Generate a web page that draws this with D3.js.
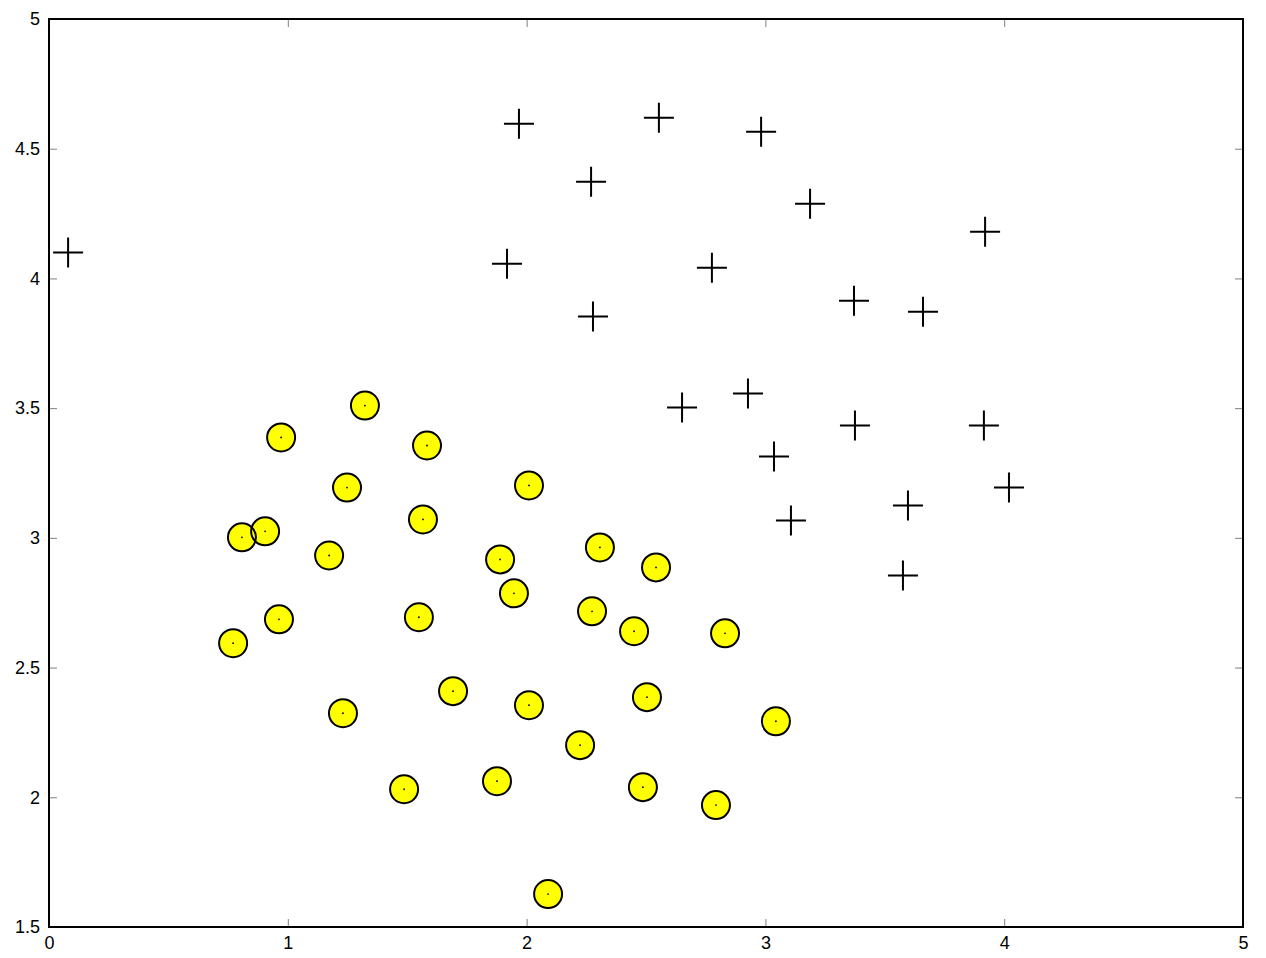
<!DOCTYPE html>
<html>
<head>
<meta charset="utf-8">
<script src="https://cdn.jsdelivr.net/npm/d3@7/dist/d3.min.js"></script>
<style>
  html, body { margin: 0; padding: 0; background: #fff; }
  svg { display: block; }
  .tick text { font-family: "Liberation Sans", Arial, Helvetica, sans-serif; font-size: 18px; fill: #000; }
</style>
</head>
<body>
<svg id="chart" width="1266" height="958"></svg>
<script>
// Positive examples (plus markers)
const posX = [0.08, 1.968, 2.554, 2.982, 2.270, 3.187, 3.920, 1.918, 2.776, 3.371, 3.660, 2.278, 2.651, 2.927, 3.375, 3.915, 3.036, 4.020, 3.597, 3.107, 3.576];
const posY = [4.10, 4.596, 4.619, 4.565, 4.373, 4.288, 4.180, 4.057, 4.041, 3.914, 3.872, 3.853, 3.502, 3.556, 3.433, 3.433, 3.314, 3.194, 3.125, 3.067, 2.855];

// Negative examples (yellow circles)
const negX = [1.323, 0.972, 1.583, 1.248, 2.010, 1.566, 0.808, 0.905, 1.173, 2.307, 1.889, 2.542, 1.947, 2.274, 1.549, 0.963, 2.450, 2.831, 0.771, 1.692, 2.504, 2.010, 1.231, 3.044, 2.224, 1.876, 1.487, 2.487, 2.793, 2.090];
const negY = [3.510, 3.387, 3.356, 3.194, 3.202, 3.071, 3.002, 3.025, 2.932, 2.963, 2.917, 2.886, 2.786, 2.717, 2.694, 2.686, 2.640, 2.632, 2.594, 2.409, 2.386, 2.355, 2.324, 2.293, 2.201, 2.062, 2.031, 2.039, 1.970, 1.627];

const xTicks = [0, 1, 2, 3, 4, 5];
const yTicks = [1.5, 2, 2.5, 3, 3.5, 4, 4.5, 5];
const xDomain = [0, 5];
const yDomain = [1.5, 5];

const W = 1266, H = 958;
const margin = { left: 49, top: 19, right: 23, bottom: 31 };
const iw = W - margin.left - margin.right;
const ih = H - margin.top - margin.bottom;

const svg = d3.select("#chart");
const g = svg.append("g").attr("transform", `translate(${margin.left},${margin.top})`);

const x = d3.scaleLinear().domain(xDomain).range([0, iw]);
const y = d3.scaleLinear().domain(yDomain).range([ih, 0]);

const fmt = d => String(d);

// Axes with inward ticks
const axB = g.append("g").attr("transform", `translate(0,${ih})`)
  .call(d3.axisBottom(x).tickValues(xTicks).tickSize(-8).tickPadding(9).tickFormat(fmt));
const axL = g.append("g")
  .call(d3.axisLeft(y).tickValues(yTicks).tickSize(-8).tickPadding(9).tickFormat(fmt));
const axT = g.append("g")
  .call(d3.axisTop(x).tickValues(xTicks).tickSize(-8).tickFormat(""));
const axR = g.append("g").attr("transform", `translate(${iw},0)`)
  .call(d3.axisRight(y).tickValues(yTicks).tickSize(-8).tickFormat(""));

[axB, axL, axT, axR].forEach(a => {
  a.select(".domain").remove();
  a.selectAll(".tick line").attr("stroke", "#808080").attr("stroke-width", 1);
});

// Plus markers
const pos = posX.map((v, i) => ({ x: v, y: posY[i] }));
const neg = negX.map((v, i) => ({ x: v, y: negY[i] }));
const arm = 15;
g.append("g").selectAll("path").data(pos).join("path")
  .attr("d", d => {
    const cx = x(d.x), cy = y(d.y);
    return `M${cx - arm},${cy}H${cx + arm}M${cx},${cy - arm}V${cy + arm}`;
  })
  .attr("stroke", "#000").attr("stroke-width", 2).attr("fill", "none");

// Circle markers: fills, then outlines, then center dots
const r = 14;
const cg = g.append("g");
cg.selectAll("circle.fill").data(neg).join("circle").attr("class", "fill")
  .attr("cx", d => x(d.x)).attr("cy", d => y(d.y)).attr("r", r)
  .attr("fill", "#ffff00").attr("stroke", "none");
cg.selectAll("circle.edge").data(neg).join("circle").attr("class", "edge")
  .attr("cx", d => x(d.x)).attr("cy", d => y(d.y)).attr("r", r)
  .attr("fill", "none").attr("stroke", "#000").attr("stroke-width", 2);
cg.selectAll("circle.dot").data(neg).join("circle").attr("class", "dot")
  .attr("cx", d => x(d.x)).attr("cy", d => y(d.y)).attr("r", 0.9)
  .attr("fill", "#000");

// Frame
g.append("rect").attr("x", 0).attr("y", 0).attr("width", iw).attr("height", ih)
  .attr("fill", "none").attr("stroke", "#000").attr("stroke-width", 2);
</script>
</body>
</html>
